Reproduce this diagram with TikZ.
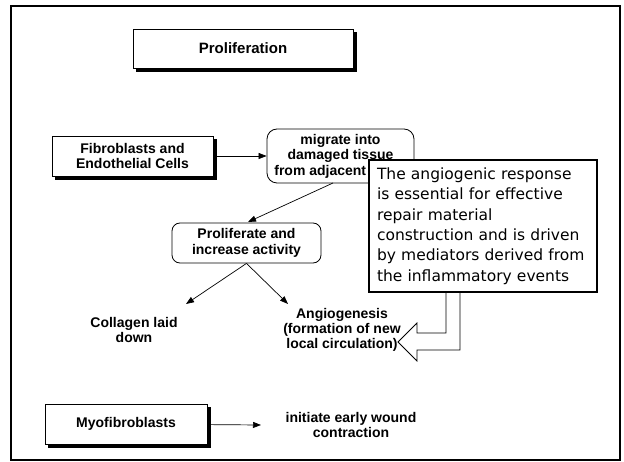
\documentclass[tikz,border=0pt]{standalone}
\usepackage{fontspec}
\setmainfont{Liberation Sans}
\newfontfamily\notefont{DejaVu Sans}
\usetikzlibrary{arrows.meta, backgrounds}
\tikzset{
    cellbox/.style={draw, fill=white, line width=.8pt, inner sep=0pt,
        align=center, font=\bfseries\fontsize{14}{15.5}\selectfont},
    stagebox/.style={draw, fill=white, line width=.8pt, inner sep=0pt,
        rounded corners=10pt, align=center,
        font=\bfseries\fontsize{14}{15.5}\selectfont},
    outcome/.style={align=center, font=\bfseries\fontsize{14}{15}\selectfont},
    flow/.style={line width=.7pt, -{Triangle[length=8pt, width=6pt]}},
}

\begin{document}
\begin{tikzpicture}[x=1pt, y=-1pt]
        \useasboundingbox (0, 0) rectangle (624, 462);
        \draw[line width=2.5pt] (11, 6) rectangle (620, 460);

        \node[cellbox, minimum width=220pt, minimum height=39pt,
            font=\bfseries\fontsize{15}{18}\selectfont] (title) at (243, 48.5)
            {Proliferation};
        \node[cellbox, minimum width=161pt, minimum height=40pt] (fibro)
            at (132.5, 156) {Fibroblasts and\\Endothelial Cells};
        \node[stagebox, minimum width=147pt, minimum height=54pt] (migrate)
            at (340.5, 156) {migrate into\\damaged tissue\\from adjacent areas};
        \node[stagebox, rounded corners=8pt, minimum width=149pt,
            minimum height=40pt] (prolif) at (246.5, 243)
            {Proliferate and\\increase activity};
        \node[outcome] (collagen) at (134, 330) {Collagen laid\\down};
        \node[outcome] (angio) at (342, 330)
            {Angiogenesis\\(formation of new\\local circulation)};
        \node[cellbox, minimum width=162pt, minimum height=40pt] (myo)
            at (126, 424) {Myofibroblasts};
        \node[outcome] (contract) at (351, 425)
            {initiate early wound\\contraction};

        % shadows of the square boxes
        \begin{scope}[on background layer]
            \foreach \cell in {title, fibro, myo}
                \fill ([shift={(3.5, 3.5)}]\cell.south west) rectangle
                    ([shift={(3.5, 3.5)}]\cell.north east);
        \end{scope}

        \draw[flow] (fibro) -- (migrate);
        \draw[flow] (333, 183) -- (248, 222);
        \draw[flow] (prolif.south) -- (186, 304);
        \draw[flow] (prolif.south) -- (288, 304);
        \draw[flow] (myo) -- (261, 425);

        % callout pointing back at angiogenesis
        \draw[fill=white, line width=.8pt] (446, 292) -- (446, 333) -- (417, 333)
            -- (417, 323) -- (398, 342) -- (417, 361) -- (417, 350)
            -- (460, 350) -- (460, 292);
        \node[draw, fill=white, line width=1.8pt, minimum width=228pt,
            minimum height=132pt, text width=212pt, align=left,
            font=\notefont\fontsize{15.5}{20.4}\selectfont] (note) at (483, 226)
            {The angiogenic response\\is essential for effective\\repair material\\
            construction and is driven\\by mediators derived from\\the
            inflammatory events};
    \end{tikzpicture}
\end{document}
